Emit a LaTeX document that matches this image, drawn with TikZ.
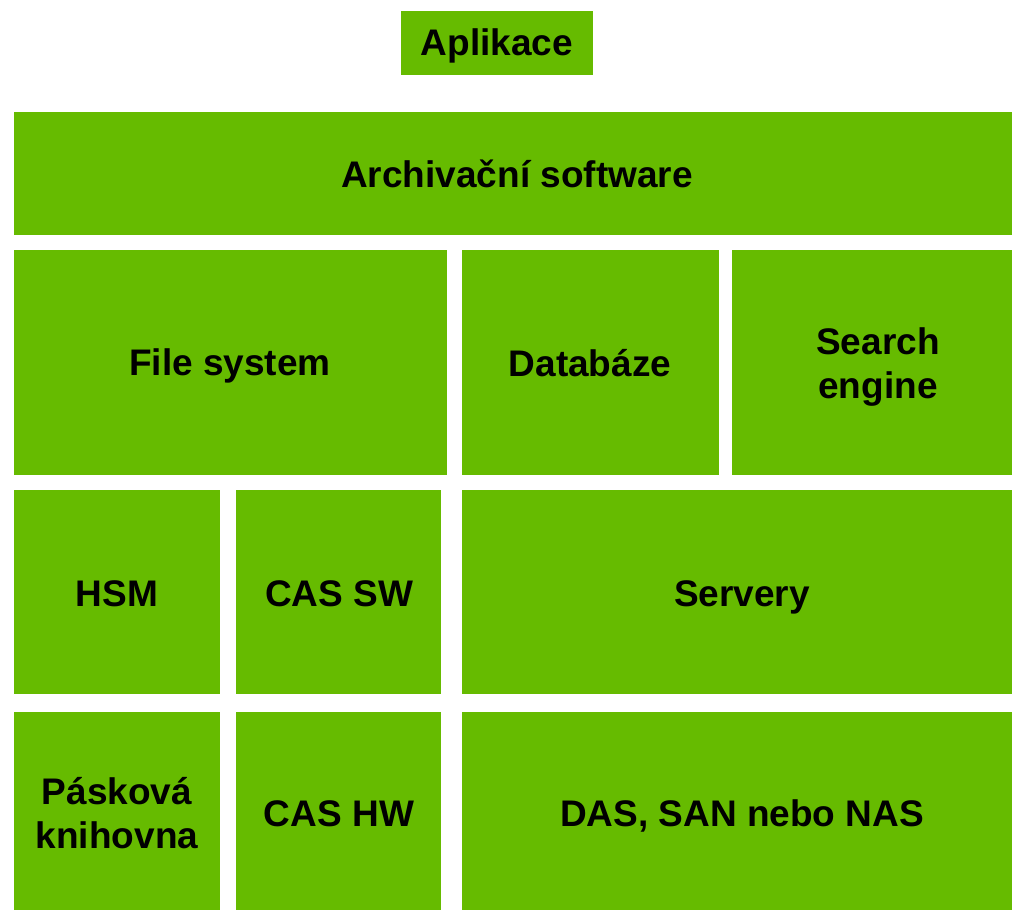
\documentclass[tikz,border=0pt]{standalone}
\usepackage{fontspec}
\setmainfont{Liberation Sans}
\definecolor{boxgreen}{HTML}{66BB00}
\begin{document}
\begin{tikzpicture}[x=1pt,y=-1pt,
  blk/.style={fill=none,draw=none,inner sep=0pt,font=\bfseries\fontsize{37}{44}\selectfont,align=center,text=black}]
\useasboundingbox[fill=white] (0,0) rectangle (1012,910);
\fill[boxgreen] (401,11) rectangle (593,75);
\fill[boxgreen] (14,112) rectangle (1012,235);
\fill[boxgreen] (14,250) rectangle (447,475);
\fill[boxgreen] (462,250) rectangle (719,475);
\fill[boxgreen] (732,250) rectangle (1012,475);
\fill[boxgreen] (14,490) rectangle (220,694);
\fill[boxgreen] (236,490) rectangle (441,694);
\fill[boxgreen] (462,490) rectangle (1012,694);
\fill[boxgreen] (14,712) rectangle (220,910);
\fill[boxgreen] (236,712) rectangle (441,910);
\fill[boxgreen] (462,712) rectangle (1012,910);
\node[blk] (app) at (497,46) {Aplikace};
\node[blk] (arch) at (517,173.5) {Archivační software};
\node[blk] (fs) at (230,365.5) {File system};
\node[blk] (db) at (590,363.5) {Databáze};
\node[blk] (se) at (878,367.5) {Search\\engine};
\node[blk] (hsm) at (117,594) {HSM};
\node[blk] (cassw) at (339,594) {CAS SW};
\node[blk] (srv) at (742,597) {Servery};
\node[blk] (pk) at (117,813) {Pásková\\knihovna};
\node[blk] (cashw) at (339,814) {CAS HW};
\node[blk] (das) at (742,816) {DAS, SAN nebo NAS};
\end{tikzpicture}
\end{document}
